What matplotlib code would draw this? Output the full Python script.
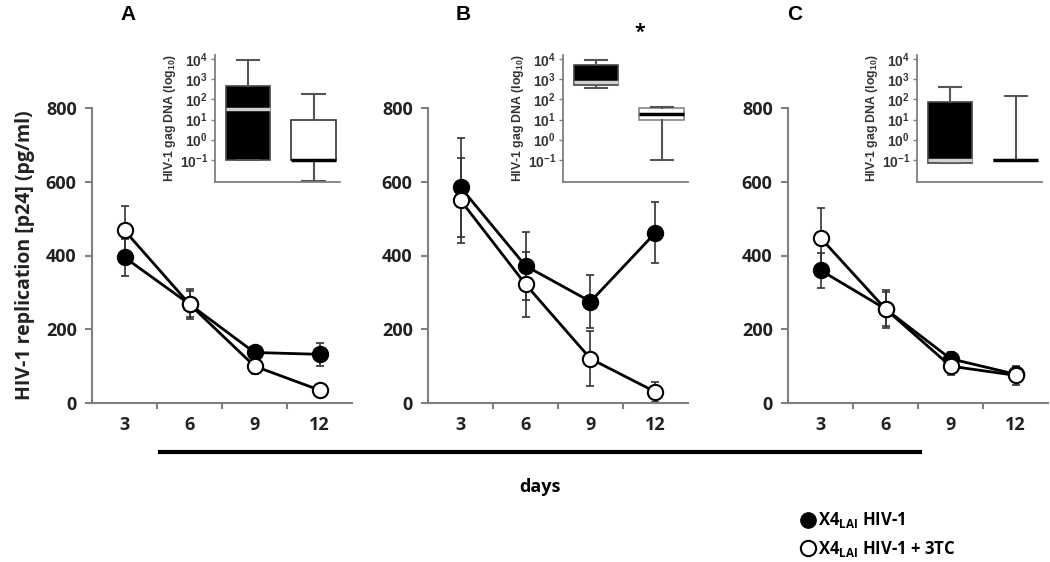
import numpy as np
import matplotlib.pyplot as plt
from matplotlib.lines import Line2D

plt.rcParams['font.family'] = ['Open Sans', 'DejaVu Sans']
plt.rcParams['font.weight'] = 'bold'
plt.rcParams['mathtext.fontset'] = 'custom'
plt.rcParams['mathtext.rm'] = 'Liberation Sans'
plt.rcParams['mathtext.bf'] = 'Liberation Sans:bold'

# --- data ---
days = ['3', '6', '9', '12']
y_ticks = [0, 200, 400, 600, 800]

a_hiv = [395, 268, 137, 132]
a_hiv_err = [50, 35, 18, 32]
a_3tc = [468, 268, 100, 35]
a_3tc_err = [65, 40, 22, 8]

b_hiv = [585, 372, 275, 462]
b_hiv_err = [135, 92, 72, 82]
b_3tc = [550, 322, 120, 30]
b_3tc_err = [115, 88, 75, 26]

c_hiv = [360, 255, 120, 78]
c_hiv_err = [48, 52, 18, 20]
c_3tc = [448, 255, 100, 75]
c_3tc_err = [80, 45, 25, 25]

# inset box plots: whislo, q1, med, q3, whishi  (HIV-1 gag DNA)
a_box_hiv = [0.1, 0.1, 33, 450, 9000]
a_box_3tc = [0.009, 0.1, 0.1, 10, 190]
b_box_hiv = [350, 500, 750, 5000, 9000]
b_box_3tc = [0.1, 9, 19, 37, 42]
c_box_hiv = [0.07, 0.07, 0.1, 72, 400]
c_box_3tc = [0.1, 0.1, 0.1, 0.1, 150]

panels = [
    ('A', a_hiv, a_hiv_err, a_3tc, a_3tc_err, a_box_hiv, a_box_3tc),
    ('B', b_hiv, b_hiv_err, b_3tc, b_3tc_err, b_box_hiv, b_box_3tc),
    ('C', c_hiv, c_hiv_err, c_3tc, c_3tc_err, c_box_hiv, c_box_3tc),
]

W, H = 1050, 562
fig = plt.figure(figsize=(10.5, 5.62), dpi=100)

main_left = [92, 428, 788]
inset_left = [215, 563, 917]
letter_x = [128, 463, 795]
grey = '#7f7f7f'
tick_font = dict(family='Open Sans', weight='bold', size=13)


def fx(px):
    return px / W


def fy(py):
    return 1 - py / H


x = np.arange(1, 5)
for i, (lab, hiv, hiv_e, tc, tc_e, bh, bt) in enumerate(panels):
    ax = fig.add_axes([fx(main_left[i]), fy(403), 260 / W, (403 - 108) / H])
    ax.errorbar(x, hiv, yerr=hiv_e, fmt='none', ecolor='#333333', elinewidth=1.2,
                capsize=3, capthick=1.2, zorder=1)
    ax.errorbar(x, tc, yerr=tc_e, fmt='none', ecolor='#333333', elinewidth=1.2,
                capsize=3, capthick=1.2, zorder=1)
    ax.plot(x, hiv, color='black', lw=2, marker='o', ms=11, mfc='black',
            mec='black', mew=1.5, zorder=3)
    ax.plot(x, tc, color='black', lw=2, marker='o', ms=11, mfc='white',
            mec='black', mew=1.5, zorder=4)
    ax.set_xlim(0.5, 4.5)
    ax.set_ylim(0, 800)
    ax.set_yticks(y_ticks)
    ax.set_yticklabels([str(v) for v in y_ticks], fontdict=tick_font, color='#222222')
    ax.set_xticks(x)
    ax.set_xticklabels(days, fontdict=tick_font, color='#222222')
    ax.set_xticks([1.5, 2.5, 3.5], minor=True)
    ax.tick_params(axis='x', which='major', length=0, pad=9)
    ax.tick_params(axis='x', which='minor', length=4, width=1.5, color=grey, direction='out')
    ax.tick_params(axis='y', length=5, width=1.5, color=grey, pad=6)
    for s in ['top', 'right']:
        ax.spines[s].set_visible(False)
    for s in ['left', 'bottom']:
        ax.spines[s].set_color(grey)
        ax.spines[s].set_linewidth(1.5)
    if i == 0:
        ax.set_ylabel('HIV-1 replication [p24] (pg/ml)', fontsize=14, fontweight='bold',
                      labelpad=8, color='#222222')
    fig.text(fx(letter_x[i]), fy(15), lab, fontsize=15, fontweight='bold',
             family='Liberation Sans', ha='center', va='center')

    # inset
    ins = fig.add_axes([fx(inset_left[i]), fy(182), 125 / W, (182 - 55) / H])
    stats = []
    for b in (bh, bt):
        stats.append(dict(whislo=b[0], q1=b[1], med=b[2], q3=b[3], whishi=b[4], fliers=[]))
    res = ins.bxp(stats, positions=[1, 2], widths=0.68, patch_artist=True, showfliers=False,
                  whiskerprops=dict(color='#555555', lw=1.5),
                  capprops=dict(color='#555555', lw=1.5))
    res['boxes'][0].set(facecolor='black', edgecolor='#444444', lw=1.2)
    res['boxes'][1].set(facecolor='white', edgecolor='#333333' if i != 1 else '#888888', lw=1.2)
    res['medians'][0].set(color='#d0d0d0', lw=2.5)
    res['medians'][1].set(color='black', lw=2.5)
    ins.set_yscale('log')
    ins.set_ylim(10 ** -2.1, 10 ** 4.2)
    ins.set_xlim(0.5, 2.4)
    ins.set_yticks([1e-1, 1e0, 1e1, 1e2, 1e3, 1e4])
    ins.set_yticklabels([r'$\mathbf{10^{%d}}$' % k for k in range(-1, 5)])
    ins.yaxis.set_minor_locator(plt.NullLocator())
    ins.set_xticks([])
    ins.tick_params(axis='y', length=3, width=1, color=grey, pad=2, labelsize=10,
                    labelcolor='#333333')
    for s in ['top', 'right']:
        ins.spines[s].set_visible(False)
    for s in ['left', 'bottom']:
        ins.spines[s].set_color(grey)
        ins.spines[s].set_linewidth(1.3)
    ins.set_ylabel(r'HIV-1 gag DNA (log$_{10}$)', fontsize=8.8, family='Liberation Sans',
                   fontweight='bold', labelpad=1, color='#333333')

fig.text(fx(640), fy(33), '*', fontsize=14, fontweight='bold', ha='center', va='center')

fig.add_artist(Line2D([fx(160), fx(920)], [fy(452), fy(452)], color='black', lw=3))
fig.text(fx(540), fy(487), 'days', fontsize=13, fontweight='bold', ha='center', va='center')

handles = [Line2D([], [], ls='none', marker='o', ms=11, mfc='black', mec='black'),
           Line2D([], [], ls='none', marker='o', ms=11, mfc='white', mec='black', mew=1.5)]
labels = [r'X4$_{\mathregular{LAI}}$ HIV-1', r'X4$_{\mathregular{LAI}}$ HIV-1 + 3TC']
fig.legend(handles, labels, loc='upper left', bbox_to_anchor=(fx(795), fy(502)),
           frameon=False, handlelength=0.6, handletextpad=0.3, labelspacing=0.5,
           prop=dict(family='Open Sans', weight='bold', size=12), borderpad=0)

plt.savefig('out.png', dpi=100)
